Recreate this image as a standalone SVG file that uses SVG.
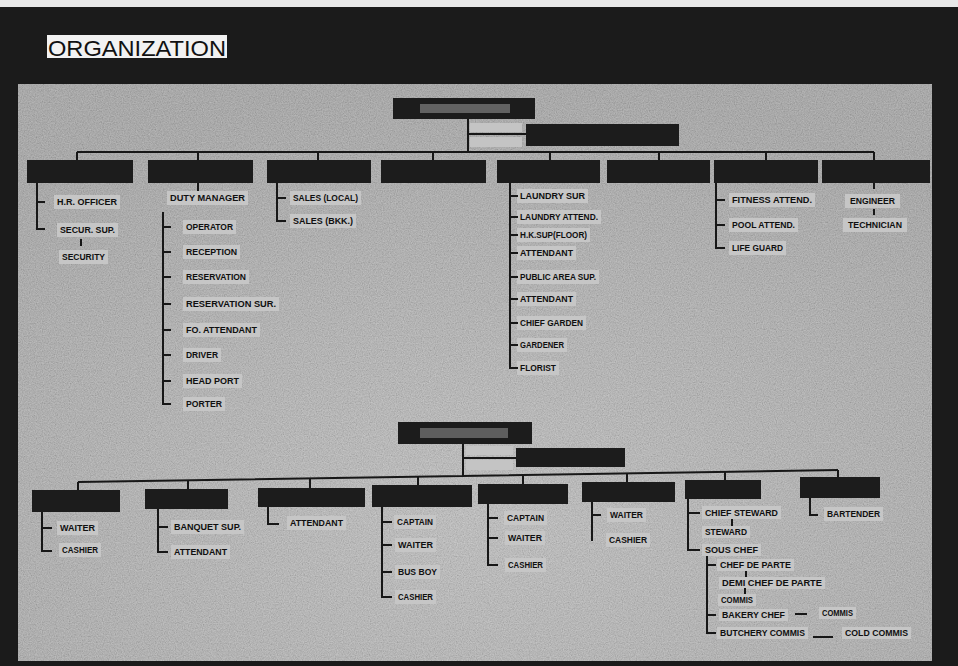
<svg xmlns="http://www.w3.org/2000/svg" width="958" height="666" viewBox="0 0 958 666">
<defs>
<style>
.box{fill:#1c1c1c}
.ln{stroke:#171717;stroke-width:2;fill:none}
.lb{fill:#c6c6c6}
.t{font-family:"Liberation Sans",Arial,sans-serif;font-weight:bold;font-size:8.5px;fill:#101010}
.patch{fill:#c4c4c4}
</style>
<radialGradient id="boardGrad" cx="0.5" cy="0.75" r="0.75">
<stop offset="0" stop-color="#bdbdbd"/>
<stop offset="1" stop-color="#9f9f9f"/>
</radialGradient>
<filter id="grain" x="0" y="0" width="100%" height="100%">
<feTurbulence type="fractalNoise" baseFrequency="0.85" numOctaves="2" seed="4"/>
<feColorMatrix type="saturate" values="0"/>
<feComponentTransfer><feFuncA type="linear" slope="0" intercept="1"/></feComponentTransfer>
</filter>
</defs>

<!-- background frame -->
<rect x="0" y="0" width="958" height="666" fill="#1b1b1b"/>
<rect x="0" y="0" width="958" height="7" fill="#e8e8e8"/>

<!-- title -->
<g id="title">
<rect x="47" y="35" width="180" height="23" fill="#f2f2f2"/>
<text x="48" y="56" font-family="'Liberation Sans',Arial,sans-serif" font-size="22" fill="#111" textLength="178" lengthAdjust="spacingAndGlyphs">ORGANIZATION</text>
</g>

<!-- board -->
<rect x="18" y="84" width="914" height="577" fill="url(#boardGrad)"/>
<rect x="18" y="84" width="914" height="577" filter="url(#grain)" opacity="0.36"/>

<!-- faint paper patches -->
<rect class="patch" x="470" y="123" width="52" height="9"/>
<rect class="patch" x="470" y="137" width="52" height="10"/>
<rect class="patch" x="466" y="446" width="47" height="9"/>
<rect class="patch" x="466" y="460" width="47" height="10"/>

<!-- top level boxes -->
<g id="gm"><rect class="box" x="393" y="98" width="142" height="21"/><rect x="420" y="104" width="90" height="9" fill="#626262"/></g>
<g id="gm-assistant"><rect class="box" x="526" y="124" width="153" height="22"/></g>
<g id="dept-hr"><rect class="box" x="27" y="160" width="106" height="23"/></g>
<g id="dept-fo"><rect class="box" x="148" y="160" width="105" height="23"/></g>
<g id="dept-sales"><rect class="box" x="267" y="160" width="104" height="23"/></g>
<g id="dept-4"><rect class="box" x="381" y="160" width="105" height="23"/></g>
<g id="dept-hk"><rect class="box" x="497" y="160" width="103" height="23"/></g>
<g id="dept-6"><rect class="box" x="607" y="160" width="103" height="23"/></g>
<g id="dept-rec"><rect class="box" x="714" y="160" width="104" height="23"/></g>
<g id="dept-eng"><rect class="box" x="822" y="160" width="108" height="23"/></g>

<!-- top labels -->
<g id="n-hr-officer"><rect class="lb" x="54" y="195" width="66" height="14"/><text class="t" x="57" y="205" textLength="60" lengthAdjust="spacingAndGlyphs">H.R. OFFICER</text></g>
<g id="n-secur-sup"><rect class="lb" x="57" y="223" width="61" height="14"/><text class="t" x="60" y="233" textLength="55" lengthAdjust="spacingAndGlyphs">SECUR. SUP.</text></g>
<g id="n-security"><rect class="lb" x="59" y="250" width="49" height="14"/><text class="t" x="62" y="260" textLength="43" lengthAdjust="spacingAndGlyphs">SECURITY</text></g>

<g id="n-duty-manager"><rect class="lb" x="167" y="191" width="81" height="14"/><text class="t" x="170" y="201" textLength="75" lengthAdjust="spacingAndGlyphs">DUTY MANAGER</text></g>
<g id="n-operator"><rect class="lb" x="183" y="220" width="53" height="14"/><text class="t" x="186" y="230" textLength="47" lengthAdjust="spacingAndGlyphs">OPERATOR</text></g>
<g id="n-reception"><rect class="lb" x="183" y="245" width="57" height="14"/><text class="t" x="186" y="255" textLength="51" lengthAdjust="spacingAndGlyphs">RECEPTION</text></g>
<g id="n-reservation"><rect class="lb" x="183" y="270" width="66" height="14"/><text class="t" x="186" y="280" textLength="60" lengthAdjust="spacingAndGlyphs">RESERVATION</text></g>
<g id="n-reservation-sur"><rect class="lb" x="183" y="297" width="96" height="14"/><text class="t" x="186" y="307" textLength="90" lengthAdjust="spacingAndGlyphs">RESERVATION SUR.</text></g>
<g id="n-fo-attendant"><rect class="lb" x="183" y="323" width="77" height="14"/><text class="t" x="186" y="333" textLength="71" lengthAdjust="spacingAndGlyphs">FO. ATTENDANT</text></g>
<g id="n-driver"><rect class="lb" x="183" y="348" width="38" height="14"/><text class="t" x="186" y="358" textLength="32" lengthAdjust="spacingAndGlyphs">DRIVER</text></g>
<g id="n-head-port"><rect class="lb" x="183" y="374" width="59" height="14"/><text class="t" x="186" y="384" textLength="53" lengthAdjust="spacingAndGlyphs">HEAD PORT</text></g>
<g id="n-porter"><rect class="lb" x="183" y="397" width="42" height="14"/><text class="t" x="186" y="407" textLength="36" lengthAdjust="spacingAndGlyphs">PORTER</text></g>

<g id="n-sales-local"><rect class="lb" x="290" y="191" width="71" height="14"/><text class="t" x="293" y="201" textLength="65" lengthAdjust="spacingAndGlyphs">SALES (LOCAL)</text></g>
<g id="n-sales-bkk"><rect class="lb" x="290" y="214" width="66" height="14"/><text class="t" x="293" y="224" textLength="60" lengthAdjust="spacingAndGlyphs">SALES (BKK.)</text></g>

<g id="n-laundry-sur"><rect class="lb" x="517" y="189" width="71" height="14"/><text class="t" x="520" y="199" textLength="65" lengthAdjust="spacingAndGlyphs">LAUNDRY SUR</text></g>
<g id="n-laundry-attend"><rect class="lb" x="517" y="210" width="84" height="14"/><text class="t" x="520" y="220" textLength="78" lengthAdjust="spacingAndGlyphs">LAUNDRY ATTEND.</text></g>
<g id="n-hk-sup"><rect class="lb" x="517" y="228" width="73" height="14"/><text class="t" x="520" y="238" textLength="67" lengthAdjust="spacingAndGlyphs">H.K.SUP(FLOOR)</text></g>
<g id="n-hk-attendant"><rect class="lb" x="517" y="246" width="59" height="14"/><text class="t" x="520" y="256" textLength="53" lengthAdjust="spacingAndGlyphs">ATTENDANT</text></g>
<g id="n-public-area-sup"><rect class="lb" x="517" y="270" width="82" height="14"/><text class="t" x="520" y="280" textLength="76" lengthAdjust="spacingAndGlyphs">PUBLIC AREA SUP.</text></g>
<g id="n-pa-attendant"><rect class="lb" x="517" y="292" width="59" height="14"/><text class="t" x="520" y="302" textLength="53" lengthAdjust="spacingAndGlyphs">ATTENDANT</text></g>
<g id="n-chief-garden"><rect class="lb" x="517" y="316" width="69" height="14"/><text class="t" x="520" y="326" textLength="63" lengthAdjust="spacingAndGlyphs">CHIEF GARDEN</text></g>
<g id="n-gardener"><rect class="lb" x="517" y="338" width="50" height="14"/><text class="t" x="520" y="348" textLength="44" lengthAdjust="spacingAndGlyphs">GARDENER</text></g>
<g id="n-florist"><rect class="lb" x="517" y="361" width="42" height="14"/><text class="t" x="520" y="371" textLength="36" lengthAdjust="spacingAndGlyphs">FLORIST</text></g>

<g id="n-fitness-attend"><rect class="lb" x="729" y="193" width="86" height="14"/><text class="t" x="732" y="203" textLength="80" lengthAdjust="spacingAndGlyphs">FITNESS ATTEND.</text></g>
<g id="n-pool-attend"><rect class="lb" x="729" y="218" width="69" height="14"/><text class="t" x="732" y="228" textLength="63" lengthAdjust="spacingAndGlyphs">POOL ATTEND.</text></g>
<g id="n-life-guard"><rect class="lb" x="729" y="241" width="57" height="14"/><text class="t" x="732" y="251" textLength="51" lengthAdjust="spacingAndGlyphs">LIFE GUARD</text></g>

<g id="n-engineer"><rect class="lb" x="845" y="194" width="55" height="14"/><text class="t" x="850" y="204" textLength="45" lengthAdjust="spacingAndGlyphs">ENGINEER</text></g>
<g id="n-technician"><rect class="lb" x="843" y="218" width="64" height="14"/><text class="t" x="848" y="228" textLength="54" lengthAdjust="spacingAndGlyphs">TECHNICIAN</text></g>

<!-- bottom section boxes -->
<g id="fb"><rect class="box" x="398" y="422" width="134" height="22"/><rect x="420" y="428" width="88" height="10" fill="#5e5e5e"/></g>
<g id="fb-assistant"><rect class="box" x="516" y="448" width="109" height="19"/></g>
<g id="fb-1"><rect class="box" x="32" y="490" width="88" height="22"/></g>
<g id="fb-2"><rect class="box" x="145" y="489" width="83" height="20"/></g>
<g id="fb-3"><rect class="box" x="258" y="488" width="107" height="19"/></g>
<g id="fb-4"><rect class="box" x="372" y="485" width="100" height="22"/></g>
<g id="fb-5"><rect class="box" x="478" y="484" width="90" height="20"/></g>
<g id="fb-6"><rect class="box" x="582" y="482" width="93" height="20"/></g>
<g id="fb-7"><rect class="box" x="685" y="480" width="76" height="19"/></g>
<g id="fb-8"><rect class="box" x="800" y="477" width="80" height="21"/></g>

<!-- bottom labels -->
<g id="b-waiter-1"><rect class="lb" x="57" y="521" width="41" height="14"/><text class="t" x="60" y="531" textLength="35" lengthAdjust="spacingAndGlyphs">WAITER</text></g>
<g id="b-cashier-1"><rect class="lb" x="59" y="543" width="42" height="14"/><text class="t" x="62" y="553" textLength="36" lengthAdjust="spacingAndGlyphs">CASHIER</text></g>
<g id="b-banquet-sup"><rect class="lb" x="171" y="520" width="73" height="14"/><text class="t" x="174" y="530" textLength="67" lengthAdjust="spacingAndGlyphs">BANQUET SUP.</text></g>
<g id="b-attendant-2"><rect class="lb" x="171" y="545" width="59" height="14"/><text class="t" x="174" y="555" textLength="53" lengthAdjust="spacingAndGlyphs">ATTENDANT</text></g>
<g id="b-attendant-3"><rect class="lb" x="287" y="516" width="59" height="14"/><text class="t" x="290" y="526" textLength="53" lengthAdjust="spacingAndGlyphs">ATTENDANT</text></g>
<g id="b-captain-4"><rect class="lb" x="394" y="515" width="42" height="14"/><text class="t" x="397" y="525" textLength="36" lengthAdjust="spacingAndGlyphs">CAPTAIN</text></g>
<g id="b-waiter-4"><rect class="lb" x="395" y="538" width="41" height="14"/><text class="t" x="398" y="548" textLength="35" lengthAdjust="spacingAndGlyphs">WAITER</text></g>
<g id="b-busboy-4"><rect class="lb" x="395" y="565" width="45" height="14"/><text class="t" x="398" y="575" textLength="39" lengthAdjust="spacingAndGlyphs">BUS BOY</text></g>
<g id="b-cashier-4"><rect class="lb" x="395" y="590" width="41" height="14"/><text class="t" x="398" y="600" textLength="35" lengthAdjust="spacingAndGlyphs">CASHIER</text></g>
<g id="b-captain-5"><rect class="lb" x="504" y="511" width="43" height="14"/><text class="t" x="507" y="521" textLength="37" lengthAdjust="spacingAndGlyphs">CAPTAIN</text></g>
<g id="b-waiter-5"><rect class="lb" x="505" y="531" width="40" height="14"/><text class="t" x="508" y="541" textLength="34" lengthAdjust="spacingAndGlyphs">WAITER</text></g>
<g id="b-cashier-5"><rect class="lb" x="505" y="558" width="41" height="14"/><text class="t" x="508" y="568" textLength="35" lengthAdjust="spacingAndGlyphs">CASHIER</text></g>
<g id="b-waiter-6"><rect class="lb" x="607" y="508" width="39" height="14"/><text class="t" x="610" y="518" textLength="33" lengthAdjust="spacingAndGlyphs">WAITER</text></g>
<g id="b-cashier-6"><rect class="lb" x="606" y="533" width="44" height="14"/><text class="t" x="609" y="543" textLength="38" lengthAdjust="spacingAndGlyphs">CASHIER</text></g>
<g id="b-chief-steward"><rect class="lb" x="702" y="506" width="79" height="13"/><text class="t" x="705" y="516" textLength="73" lengthAdjust="spacingAndGlyphs">CHIEF STEWARD</text></g>
<g id="b-steward"><rect class="lb" x="702" y="526" width="48" height="12"/><text class="t" x="705" y="535" textLength="42" lengthAdjust="spacingAndGlyphs">STEWARD</text></g>
<g id="b-sous-chef"><rect class="lb" x="702" y="544" width="59" height="12"/><text class="t" x="705" y="553" textLength="53" lengthAdjust="spacingAndGlyphs">SOUS CHEF</text></g>
<g id="b-chef-de-parte"><rect class="lb" x="717" y="559" width="77" height="12"/><text class="t" x="720" y="568" textLength="71" lengthAdjust="spacingAndGlyphs">CHEF DE PARTE</text></g>
<g id="b-demi-chef"><rect class="lb" x="719" y="577" width="106" height="12"/><text class="t" x="722" y="586" textLength="100" lengthAdjust="spacingAndGlyphs">DEMI CHEF DE PARTE</text></g>
<g id="b-commis"><rect class="lb" x="718" y="594" width="38" height="12"/><text class="t" x="721" y="603" textLength="32" lengthAdjust="spacingAndGlyphs">COMMIS</text></g>
<g id="b-bakery-chef"><rect class="lb" x="719" y="609" width="69" height="12"/><text class="t" x="722" y="618" textLength="63" lengthAdjust="spacingAndGlyphs">BAKERY CHEF</text></g>
<g id="b-bakery-commis"><rect class="lb" x="819" y="607" width="37" height="12"/><text class="t" x="822" y="616" textLength="31" lengthAdjust="spacingAndGlyphs">COMMIS</text></g>
<g id="b-butchery-commis"><rect class="lb" x="717" y="627" width="91" height="12"/><text class="t" x="720" y="636" textLength="85" lengthAdjust="spacingAndGlyphs">BUTCHERY COMMIS</text></g>
<g id="b-cold-commis"><rect class="lb" x="842" y="627" width="69" height="12"/><text class="t" x="845" y="636" textLength="63" lengthAdjust="spacingAndGlyphs">COLD COMMIS</text></g>
<g id="b-bartender"><rect class="lb" x="824" y="507" width="59" height="14"/><text class="t" x="827" y="517" textLength="53" lengthAdjust="spacingAndGlyphs">BARTENDER</text></g>

<!-- connectors -->
<g id="connectors" class="ln">
<path d="M468 119V152M468 134H526M77 152H874"/>
<path d="M77 152V160M198 152V160M318 152V160M433 152V160M550 152V160M659 152V160M766 152V160M874 152V160"/>
<path d="M37 183V229H45M37 202H45M81 239V246"/>
<path d="M198 183V191M163 212V404H171M163 227H171M163 252H171M163 277H171M163 304H171M163 330H171M163 355H171M163 381H171"/>
<path d="M277 183V221H286M277 198H286"/>
<path d="M510 183V368H518M510 196H518M510 217H518M510 235H518M510 253H518M510 277H518M510 299H518M510 323H518M510 345H518"/>
<path d="M716 183V248H725M716 200H725M716 225H725"/>
<path d="M874 183V189M874 209V215"/>
<path d="M463 444V476M463 458H516M78 482L838 470"/>
<path d="M78 482V490M188 480V489M310 478V488M418 477V485M523 475V484M627 473V482M725 472V480M838 470V477"/>
<path d="M42 512V551H52M42 528H52"/>
<path d="M158 509V552H168M158 527H168"/>
<path d="M268 507V524H279"/>
<path d="M382 507V597H392M382 522H392M382 545H392M382 572H392"/>
<path d="M488 504V565H498M488 518H498M488 538H498"/>
<path d="M592 502V541M592 515H601"/>
<path d="M688 499V550H700M688 513H700M732 519V526"/>
<path d="M707 556V633H716M707 565H716M707 615H716M746 571V577M745 588V594"/>
<path d="M795 614H807M813 637H833"/>
<path d="M810 498V515H818"/>
</g>
</svg>
